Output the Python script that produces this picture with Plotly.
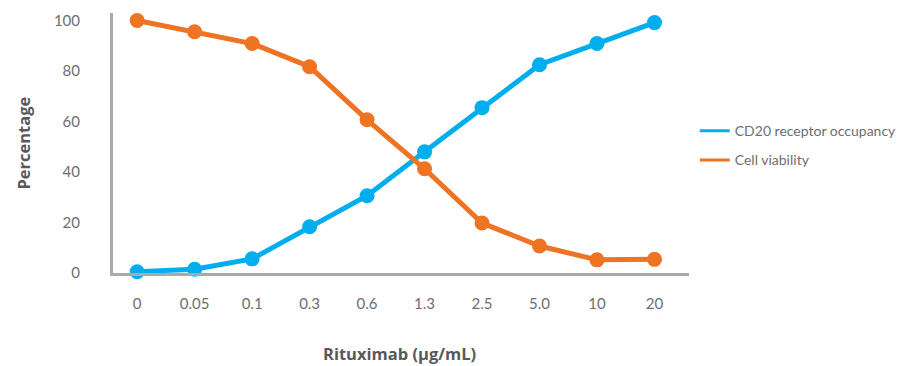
import plotly.graph_objects as go

categories = ["0", "0.05", "0.1", "0.3", "0.6", "1.3", "2.5", "5.0", "10", "20"]
cd20_occupancy = [0.5, 1.5, 5.6, 18.3, 30.6, 48, 65.5, 82.5, 90.9, 99.2]
cell_viability = [100, 95.6, 90.9, 81.7, 60.7, 41.3, 19.8, 10.7, 5.2, 5.4]
y_ticks = [0, 20, 40, 60, 80, 100]

BLUE = "#00AEEF"
ORANGE = "#EE7322"
TXT = "#6d6e71"
TITLE = "#58595b"

fig = go.Figure()
for name, vals, col in [("CD20 receptor occupancy", cd20_occupancy, BLUE),
                        ("Cell viability", cell_viability, ORANGE)]:
    fig.add_trace(go.Scatter(x=categories, y=vals, mode="lines+markers",
                             line=dict(color=col, width=5),
                             marker=dict(color=col, size=15),
                             showlegend=False, cliponaxis=False))
for i, (name, col) in enumerate([("CD20 receptor occupancy", BLUE), ("Cell viability", ORANGE)]):
    fig.add_trace(go.Scatter(x=[None], y=[None], mode="lines", name=name,
                             legendgroup=f"g{i}",
                             line=dict(color=col, width=3)))

fig.update_layout(
    width=914, height=366,
    margin=dict(l=113, r=222, t=13, b=93),
    paper_bgcolor="white", plot_bgcolor="white",
    font=dict(family="Lato, Open Sans, sans-serif", color=TXT, size=15),
    legend=dict(x=1.01, y=0.49, xanchor="left", yanchor="middle",
                font=dict(size=14, color=TXT), tracegroupgap=8,
                traceorder="grouped", itemwidth=30),
    xaxis=dict(type="category", range=[-0.42, 9.6], showline=True, automargin=False,
               linecolor="#a7a9ac", linewidth=3, showgrid=False, zeroline=False,
               ticks="", ticklabelstandoff=15,
               tickfont=dict(size=15, color=TXT)),
    yaxis=dict(range=[0, 103], showline=True, linecolor="#a7a9ac", linewidth=3,
               automargin=False,
               showgrid=False, zeroline=False, tickvals=y_ticks, ticks="",
               ticklabelstandoff=27, tickfont=dict(size=15, color=TXT)),
    annotations=[
        dict(text="<b>Rituximab (μg/mL)</b>", xref="paper", yref="paper",
             x=0.497, y=-0.31, xanchor="center", yanchor="middle", showarrow=False,
             font=dict(family="Open Sans, sans-serif", size=16.5, color=TITLE)),
        dict(text="<b>Percentage</b>", xref="paper", yref="paper",
             x=-0.157, y=0.5, xanchor="center", yanchor="middle", showarrow=False,
             textangle=-90,
             font=dict(family="Open Sans, sans-serif", size=16.5, color=TITLE)),
    ],
)
fig.write_html("out.html")
